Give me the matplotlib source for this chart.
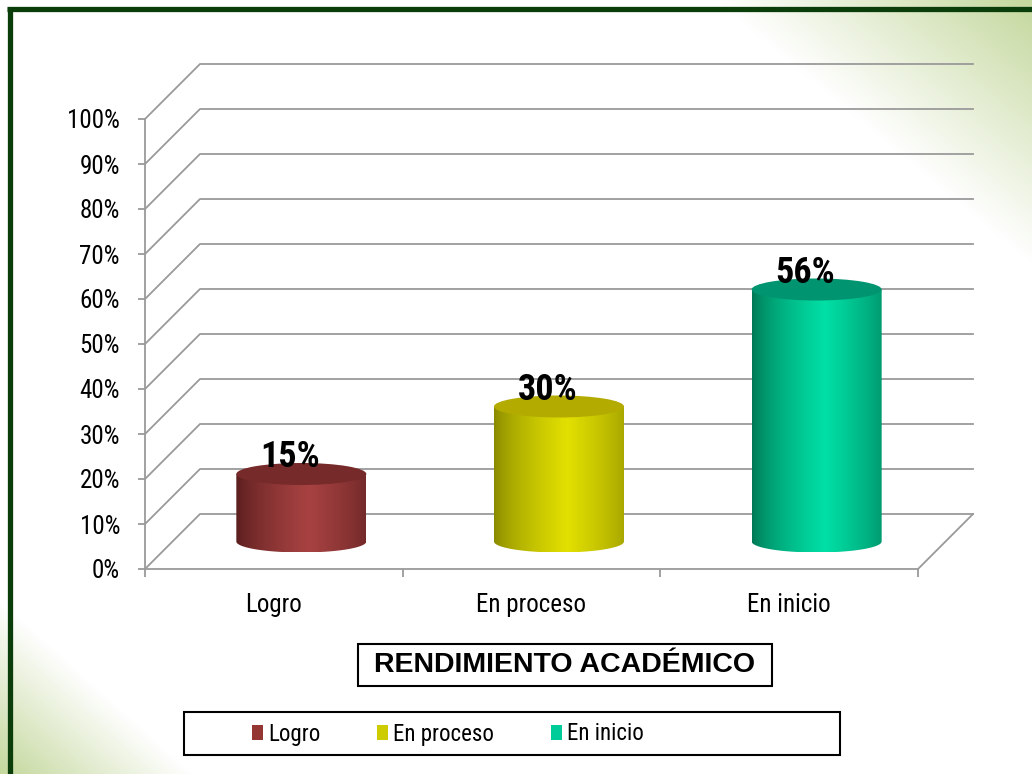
import matplotlib
matplotlib.use("Agg")
import matplotlib.pyplot as plt
import numpy as np
from matplotlib.patches import Ellipse, PathPatch, Patch, Rectangle
from matplotlib.path import Path

plt.rcParams['font.family'] = ['Roboto Condensed', 'Liberation Sans', 'DejaVu Sans']

categorias = ["Logro", "En proceso", "En inicio"]
valores = [15, 30, 56]
etiquetas = ["15%", "30%", "56%"]
ticks_y = [0, 10, 20, 30, 40, 50, 60, 70, 80, 90, 100]
ticks_y_txt = ["0%", "10%", "20%", "30%", "40%", "50%", "60%", "70%", "80%", "90%", "100%"]
titulo = "RENDIMIENTO ACADÉMICO"

# colores: borde oscuro, brillo, tapa
col_borde = ["#4e1818", "#7c7c00", "#006848"]
col_brillo = ["#a84242", "#e2e000", "#00e0a6"]
col_tapa = ["#772a2a", "#b3ab00", "#009470"]
col_legenda = ["#943634", "#cccc00", "#00cc99"]

W, H = 1032, 774
fig = plt.figure(figsize=(W / 100, H / 100), dpi=100)

# fondo con degradados verdes en las esquinas
bg = fig.add_axes([0, 0, 1, 1])
bg.set_axis_off()
yy, xx = np.mgrid[0:H, 0:W]
verde = np.array([0.76, 0.84, 0.60])
d1 = np.clip((xx - 715 - yy * 1.2) / 330.0, 0, 1)
d2 = np.clip((yy - 600 - xx * 0.9) / 180.0, 0, 1)
t = np.maximum(d1, d2)[..., None]
img = (1 - t) * np.ones(3) + t * verde
bg.imshow(img, extent=[0, W, H, 0], aspect='auto')
bg.set_xlim(0, W)
bg.set_ylim(H, 0)
bg.plot([7, W], [9, 9], color="#0b3d0b", lw=3.8, solid_capstyle='butt')
bg.plot([9.5, 9.5], [7, H], color="#0b3d0b", lw=3.8, solid_capstyle='butt')
# marcos del titulo y de la leyenda
bg.add_patch(Rectangle((358, 644), 414, 42, facecolor='white', edgecolor='black', lw=1.5))
bg.add_patch(Rectangle((184, 712), 656, 43, facecolor='white', edgecolor='black', lw=1.5))

# ejes del grafico 3D (plano frontal)
x0, x1, y0, y1 = 145, 918, 569, 119
ax = fig.add_axes([x0 / W, (H - y0) / H, (x1 - x0) / W, (y0 - y1) / H])
ax.patch.set_alpha(0)
n = len(categorias)
ax.set_xlim(0, n)
ax.set_ylim(0, 100)

px_x = (x1 - x0) / n
px_y = (y0 - y1) / 100
dx = 55 / px_x        # profundidad en unidades de categoria
dy = 55 / px_y        # profundidad en %
gris = "#9a9a9a"

for v in ticks_y:
    ax.plot([0, dx, n + dx], [v, v + dy, v + dy], color=gris, lw=1.3, clip_on=False, zorder=1)
ax.plot([n, n + dx], [0, dy], color=gris, lw=1.3, clip_on=False, zorder=1)

for s in ["top", "right"]:
    ax.spines[s].set_visible(False)
for s in ["left", "bottom"]:
    ax.spines[s].set_color(gris)
    ax.spines[s].set_linewidth(1.3)

ax.set_yticks(ticks_y)
ax.set_yticklabels(ticks_y_txt, fontsize=18)
ax.tick_params(axis='y', length=5, width=1.3, color=gris, pad=13)
ax.set_xticks(range(n + 1))
ax.set_xticklabels([])
ax.set_xticks(np.arange(n) + 0.5, minor=True)
ax.set_xticklabels(categorias, minor=True, fontsize=18)
ax.tick_params(axis='x', which='major', length=6, width=1.3, color=gris)
ax.tick_params(axis='x', which='minor', length=0, pad=17)

# cilindros
r = 65 / px_x
e = 11 / px_y
grad = np.linspace(0, 1, 200)
for i, v in enumerate(valores):
    cx = i + 0.5 + dx / 2
    base = dy / 2
    top = v + dy / 2
    ang = np.linspace(np.pi, 2 * np.pi, 60)
    verts = [(cx - r, top), (cx - r, base)]
    verts += list(zip(cx + r * np.cos(ang), base + e * np.sin(ang)))
    verts += [(cx + r, top), (cx - r, top)]
    codes = [Path.MOVETO] + [Path.LINETO] * (len(verts) - 2) + [Path.CLOSEPOLY]
    clip = PathPatch(Path(verts, codes), transform=ax.transData, facecolor='none', edgecolor='none')
    ax.add_patch(clip)
    c0 = np.array(matplotlib.colors.to_rgb(col_borde[i]))
    c1 = np.array(matplotlib.colors.to_rgb(col_brillo[i]))
    w = np.clip(1 - np.abs(grad - 0.56) / 0.58, 0, 1) ** 0.6
    fila = (1 - w)[:, None] * c0 + w[:, None] * c1
    im = ax.imshow(fila[None, :, :], extent=[cx - r, cx + r, base - e, top], aspect='auto', zorder=3)
    im.set_clip_path(clip)
    ax.add_patch(Ellipse((cx, top), 2 * r, 2 * e, facecolor=col_tapa[i], edgecolor='none', zorder=4))
    ax.annotate(etiquetas[i], (cx, top - e * 0.1), xytext=(-8, 0), textcoords='offset points',
                ha='center', va='bottom', fontsize=26, fontweight='bold', zorder=5)

ax.set_xlim(0, n)
ax.set_ylim(0, 100)

fig.text(565 / W, 1 - 665 / H, titulo, ha='center', va='center', fontsize=20.5, fontweight='bold',
         family=['Liberation Sans', 'DejaVu Sans'])

handles = [Patch(facecolor=c, edgecolor='none') for c in col_legenda]
leg = fig.legend(handles, categorias, loc='center left', ncol=3,
                 bbox_to_anchor=(252 / W, 1 - 734 / H), frameon=False,
                 fontsize=16.5, handlelength=0.47, handleheight=0.62,
                 handletextpad=0.22, columnspacing=2.5, borderaxespad=0, borderpad=0)

fig.savefig("out.png", dpi=100)
